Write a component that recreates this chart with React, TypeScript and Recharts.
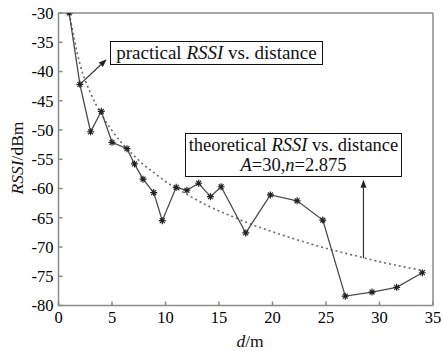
import React from 'react';
import { LineChart, Line, XAxis, YAxis, ReferenceLine } from 'recharts';

const practicalD = [1, 2, 3, 4, 5, 6.4, 7.1, 7.9, 8.9, 9.7, 11, 12, 13.1, 14.2, 15.2, 17.5, 19.8, 22.3, 24.7, 26.8, 29.3, 31.6, 34];
const practicalRssi = [-30, -42.2, -50.3, -46.8, -52.1, -53.2, -55.8, -58.4, -60.7, -65.5, -59.8, -60.3, -59.1, -61.4, -59.7, -67.6, -61.1, -62.1, -65.4, -78.4, -77.7, -76.9, -74.4];

// theoretical curve, A=30, n=2.875
const theoryD = [1, 2, 3, 4, 5, 6, 7, 8, 9, 10, 12, 14, 16, 18, 20, 22, 24, 26, 28, 30, 32, 34];
const theoryRssi = [-30, -38.7, -43.7, -47.3, -50.1, -52.4, -54.3, -56, -57.4, -58.8, -61, -63, -64.6, -66.1, -67.4, -68.6, -69.7, -70.7, -71.6, -72.5, -73.3, -74];

const xTicks = [0, 5, 10, 15, 20, 25, 30, 35];
const yTicks = [-80, -75, -70, -65, -60, -55, -50, -45, -40, -35, -30];

const practical = practicalD.map((d, i) => ({ d, rssi: practicalRssi[i] }));
const theory = theoryD.map((d, i) => ({ d, rssi: theoryRssi[i] }));

const FONT = '"Liberation Serif", "DejaVu Serif", serif';
const AXIS = '#8a8a8a';

const XTick = (props: any) => {
    const { x, y, payload } = props;
    return (
        <text x={x} y={y} dy="0.71em" textAnchor="middle" fill="#000" fontFamily="Liberation Serif" fontSize={16.5}>
            {payload.value}
        </text>
    );
};

const YTick = (props: any) => {
    const { x, y, payload } = props;
    return (
        <text x={x} y={y} dy="0.35em" textAnchor="end" fill="#000" fontFamily="Liberation Serif" fontSize={16.5}>
            {payload.value}
        </text>
    );
};

const StarDot = (props: any) => {
    const { cx, cy } = props;
    if (cx == null || cy == null) return null;
    const r = 3.5;
    const k = r * 0.7;
    return (
        <g stroke="#222" strokeWidth={1.2}>
            <line x1={cx - r} y1={cy} x2={cx + r} y2={cy} />
            <line x1={cx} y1={cy - r} x2={cx} y2={cy + r} />
            <line x1={cx - k} y1={cy - k} x2={cx + k} y2={cy + k} />
            <line x1={cx - k} y1={cy + k} x2={cx + k} y2={cy - k} />
            <circle cx={cx} cy={cy} r={1.6} fill="#222" stroke="none" />
        </g>
    );
};

const Arrow = (props: any) => {
    const { x1, y1, x2, y2 } = props;
    if ([x1, y1, x2, y2].some(v => v == null || isNaN(v))) return null;
    const ang = Math.atan2(y2 - y1, x2 - x1);
    const len = 8;
    const w = 3;
    const bx = x2 - len * Math.cos(ang);
    const by = y2 - len * Math.sin(ang);
    const px = -Math.sin(ang) * w;
    const py = Math.cos(ang) * w;
    return (
        <g>
            <line x1={x1} y1={y1} x2={bx} y2={by} stroke="#333" strokeWidth={1.2} />
            <polygon points={`${x2},${y2} ${bx + px},${by + py} ${bx - px},${by - py}`} fill="#222" />
        </g>
    );
};

export default function App() {
    return (
        <div style={{ position: 'absolute', left: 0, top: 0, width: 443, height: 351, background: '#fff', fontFamily: FONT }}>
            <LineChart width={443} height={351} data={theory} margin={{ top: 12, right: 9, bottom: 0, left: 0 }}>
                <XAxis
                    xAxisId="b"
                    dataKey="d"
                    type="number"
                    domain={[0, 35]}
                    ticks={xTicks}
                    height={45.5}
                    stroke={AXIS}
                    strokeWidth={1.5}
                    tickSize={-4}
                    tickMargin={10}
                    tick={<XTick />}
                    allowDataOverflow
                />
                <XAxis
                    xAxisId="t"
                    orientation="top"
                    dataKey="d"
                    type="number"
                    domain={[0, 35]}
                    ticks={xTicks}
                    height={1}
                    stroke={AXIS}
                    strokeWidth={1.5}
                    tickSize={-4}
                    tick={false}
                    allowDataOverflow
                />
                <YAxis
                    yAxisId="l"
                    type="number"
                    domain={[-80, -30]}
                    ticks={yTicks}
                    width={58.5}
                    stroke={AXIS}
                    strokeWidth={1.5}
                    tickSize={-4}
                    tickMargin={9}
                    tick={<YTick />}
                    allowDataOverflow
                />
                <YAxis
                    yAxisId="r"
                    orientation="right"
                    type="number"
                    domain={[-80, -30]}
                    ticks={yTicks}
                    width={1}
                    stroke={AXIS}
                    strokeWidth={1.5}
                    tickSize={-4}
                    tick={false}
                    allowDataOverflow
                />
                <Line
                    xAxisId="t"
                    yAxisId="r"
                    data={theory}
                    dataKey="rssi"
                    stroke="none"
                    dot={false}
                    activeDot={false}
                    isAnimationActive={false}
                />
                <Line
                    xAxisId="b"
                    yAxisId="l"
                    data={theory}
                    dataKey="rssi"
                    type="monotone"
                    stroke="#6a6a6a"
                    strokeWidth={1.6}
                    strokeDasharray="2 3"
                    dot={false}
                    activeDot={false}
                    isAnimationActive={false}
                />
                <Line
                    xAxisId="b"
                    yAxisId="l"
                    data={practical}
                    dataKey="rssi"
                    type="linear"
                    stroke="#4a4a4a"
                    strokeWidth={1.3}
                    dot={<StarDot />}
                    activeDot={false}
                    isAnimationActive={false}
                />
                <ReferenceLine
                    xAxisId="b"
                    yAxisId="l"
                    segment={[{ x: 2, y: -42.2 }, { x: 4.5, y: -37.9 }]}
                    shape={<Arrow />}
                    ifOverflow="visible"
                />
                <ReferenceLine
                    xAxisId="b"
                    yAxisId="l"
                    segment={[{ x: 28.5, y: -71.9 }, { x: 28.5, y: -58.5 }]}
                    shape={<Arrow />}
                    ifOverflow="visible"
                />
            </LineChart>

            <div style={{
                position: 'absolute', left: 110, top: 41, width: 211, height: 22,
                border: '1px solid #111', background: '#fff', fontSize: 19, lineHeight: '22px',
                textAlign: 'center', color: '#111', whiteSpace: 'nowrap'
            }}>
                practical <i>RSSI</i> vs. distance
            </div>

            <div style={{
                position: 'absolute', left: 185, top: 133, width: 217, height: 44,
                border: '1px solid #111', background: '#fff', fontSize: 18.5, lineHeight: '20px',
                textAlign: 'center', color: '#111', whiteSpace: 'nowrap', paddingTop: 1, boxSizing: 'border-box'
            }}>
                theoretical <i>RSSI</i> vs. distance<br />
                <i>A</i>=30,<i>n</i>=2.875
            </div>

            <div style={{
                position: 'absolute', left: 17, top: 158, transform: 'translate(-50%, -50%) rotate(-90deg)',
                fontSize: 17.5, color: '#111', whiteSpace: 'nowrap'
            }}>
                <i>RSSI</i>/dBm
            </div>

            <div style={{
                position: 'absolute', left: 250, top: 341, transform: 'translate(-50%, -50%)',
                fontSize: 17.5, color: '#111', whiteSpace: 'nowrap'
            }}>
                <i>d</i>/m
            </div>
        </div>
    );
}
